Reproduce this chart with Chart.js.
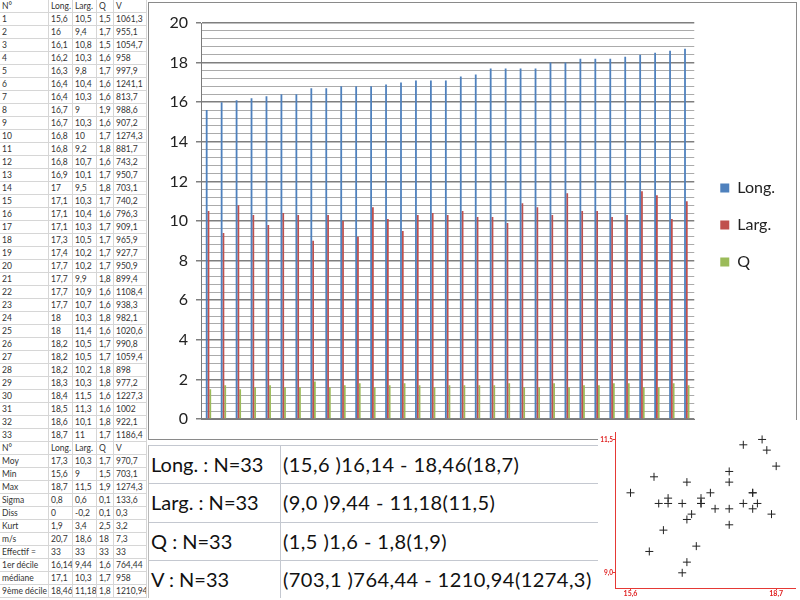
<!DOCTYPE html>
<html>
<head>
<meta charset="utf-8">
<script src="https://cdn.jsdelivr.net/npm/chart.js@4"></script>
<style>
body { margin: 0; width: 800px; height: 600px; background: #fff; position: relative; overflow: hidden; font-family: Lato, "Open Sans", sans-serif; }
#sheet { position: absolute; left: 0; top: 0; display: grid; grid-template-columns: 49px 24px 24px 17px 33px; grid-auto-rows: 13px; }
#sheet div { box-sizing: border-box; border-right: 1px solid #d6d6d6; border-bottom: 1px solid #d6d6d6; font-size: 8.5px; line-height: 12px; color: #333; padding-left: 2px; white-space: nowrap; overflow: hidden; }
#frame { position: absolute; left: 148px; top: 2px; width: 647px; height: 436px; border: 1px solid #8a8a8a; }
#barWrap { position: absolute; left: 150px; top: 3px; }
#summary { position: absolute; left: 148px; top: 445px; display: grid; grid-template-columns: 132px 325px; grid-auto-rows: 38.3px; border-left: 1px solid #bbb; }
#summary div { box-sizing: border-box; border-top: 1px solid #c4c8d0; font-size: 20px; line-height: 37px; color: #111; padding-left: 2px; white-space: nowrap; }
#summary div.c1 { border-right: 1px solid #c4c8d0; }
#summary div.c2 { letter-spacing: 0.45px; }
#scatterWrap { position: absolute; left: 598px; top: 420px; width: 202px; height: 180px; background: #fff; }
</style>
</head>
<body>
<div id="sheet"></div>
<div id="frame"></div>
<div id="barWrap"><canvas id="bars" width="645" height="436"></canvas></div>
<div id="summary"></div>
<div id="scatterWrap"><canvas id="scatter" width="202" height="180"></canvas></div>
<script>
// data
var ids = [];
for (var n = 1; n <= 33; n++) ids.push(String(n));
var longs = [15.6, 16, 16.1, 16.2, 16.3, 16.4, 16.4, 16.7, 16.7, 16.8, 16.8, 16.8, 16.9, 17, 17.1, 17.1, 17.1, 17.3, 17.4, 17.7, 17.7, 17.7, 17.7, 18, 18, 18.2, 18.2, 18.2, 18.3, 18.4, 18.5, 18.6, 18.7];
var largs = [10.5, 9.4, 10.8, 10.3, 9.8, 10.4, 10.3, 9, 10.3, 10, 9.2, 10.7, 10.1, 9.5, 10.3, 10.4, 10.3, 10.5, 10.2, 10.2, 9.9, 10.9, 10.7, 10.3, 11.4, 10.5, 10.5, 10.2, 10.3, 11.5, 11.3, 10.1, 11];
var qs = [1.5, 1.7, 1.5, 1.6, 1.7, 1.6, 1.6, 1.9, 1.6, 1.7, 1.8, 1.6, 1.7, 1.8, 1.7, 1.6, 1.7, 1.7, 1.7, 1.7, 1.8, 1.6, 1.6, 1.8, 1.6, 1.7, 1.7, 1.8, 1.8, 1.6, 1.6, 1.8, 1.7];
var vs = [1061.3, 955.1, 1054.7, 958, 997.9, 1241.1, 813.7, 988.6, 907.2, 1274.3, 881.7, 743.2, 950.7, 703.1, 740.2, 796.3, 909.1, 965.9, 927.7, 950.9, 899.4, 1108.4, 938.3, 982.1, 1020.6, 990.8, 1059.4, 898, 977.2, 1227.3, 1002, 922.1, 1186.4];

var headers = ['N°', 'Long.', 'Larg.', 'Q', 'V'];
var statLabels = ['Moy', 'Min', 'Max', 'Sigma', 'Diss', 'Kurt', 'm/s', 'Effectif =', '1er décile', 'médiane', '9ème décile'];
var statLong = ['17,3', '15,6', '18,7', '0,8', '0', '1,9', '20,7', '33', '16,14', '17,1', '18,46'];
var statLarg = ['10,3', '9', '11,5', '0,6', '-0,2', '3,4', '18,6', '33', '9,44', '10,3', '11,18'];
var statQ = ['1,7', '1,5', '1,9', '0,1', '0,1', '2,5', '18', '33', '1,6', '1,7', '1,8'];
var statV = ['970,7', '703,1', '1274,3', '133,6', '0,3', '3,2', '7,3', '33', '764,44', '958', '1210,94'];

var summaryNames = ['Long. : N=33', 'Larg. : N=33', 'Q : N=33', 'V : N=33'];
var summaryRanges = ['(15,6 )16,14 - 18,46(18,7)', '(9,0 )9,44 - 11,18(11,5)', '(1,5 )1,6 - 1,8(1,9)', '(703,1 )764,44 - 1210,94(1274,3)'];

var scatterXTicks = [15.6, 18.7];
var scatterYTicks = [9, 11.5];

function fr(v) { return String(v).replace('.', ','); }

// spreadsheet on the left
var sheet = document.getElementById('sheet');
function addRow(cells) {
    cells.forEach(function (c) {
        var d = document.createElement('div');
        d.textContent = c;
        sheet.appendChild(d);
    });
}
addRow(headers);
for (var i = 0; i < ids.length; i++) {
    addRow([ids[i], fr(longs[i]), fr(largs[i]), fr(qs[i]), fr(vs[i])]);
}
addRow(headers);
for (var j = 0; j < statLabels.length; j++) {
    addRow([statLabels[j], statLong[j], statLarg[j], statQ[j], statV[j]]);
}

// summary lines
var summary = document.getElementById('summary');
for (var k = 0; k < summaryNames.length; k++) {
    var a = document.createElement('div');
    a.className = 'c1';
    a.textContent = summaryNames[k];
    var b = document.createElement('div');
    b.className = 'c2';
    b.textContent = summaryRanges[k];
    summary.appendChild(a);
    summary.appendChild(b);
}

// bar chart
var yTicks = [];
for (var t = 0; t <= 50; t++) yTicks.push(Math.round(t * 4) / 10);
function isMajor(v) { return Math.abs(v / 2 - Math.round(v / 2)) < 1e-6; }

// push the legend a bit to the right of the plot
var legendShift = {
    id: 'legendShift',
    afterLayout: function (chart) {
        chart.legend.left += 5;
        chart.legend.right += 5;
    }
};

new Chart(document.getElementById('bars'), {
    type: 'bar',
    data: {
        labels: ids,
        datasets: [
            { label: 'Long.', data: longs, backgroundColor: '#4F81BD', categoryPercentage: 0.36, barPercentage: 1 },
            { label: 'Larg.', data: largs, backgroundColor: '#C0504D', categoryPercentage: 0.36, barPercentage: 1 },
            { label: 'Q', data: qs, backgroundColor: '#9BBB59', categoryPercentage: 0.36, barPercentage: 1 }
        ]
    },
    options: {
        responsive: false,
        animation: false,
        layout: { padding: { top: 20, right: 15, bottom: 12, left: 0 } },
        plugins: {
            legend: {
                position: 'right',
                labels: {
                    boxWidth: 9,
                    boxHeight: 9,
                    padding: 21,
                    color: '#222',
                    font: { family: 'Lato', size: 16 }
                }
            },
            tooltip: { enabled: false }
        },
        scales: {
            x: {
                grid: { display: false },
                ticks: { display: false },
                border: { color: '#7a7a7a' }
            },
            y: {
                min: 0,
                max: 20,
                afterBuildTicks: function (s) {
                    s.ticks = yTicks.map(function (v) { return { value: v }; });
                },
                afterFit: function (s) { s.width = 51; },
                ticks: {
                    autoSkip: false,
                    color: '#222',
                    padding: 8,
                    font: { family: 'Lato', size: 16 },
                    callback: function (v) { return isMajor(v) ? String(v) : ''; }
                },
                grid: {
                    tickLength: 5,
                    color: function (c) { return isMajor(c.tick.value) ? '#7f7f7f' : '#ababab'; },
                    tickColor: function (c) { return isMajor(c.tick.value) ? '#7f7f7f' : 'rgba(0,0,0,0)'; },
                    lineWidth: function (c) { return isMajor(c.tick.value) ? 1.5 : 1; }
                },
                border: { color: '#7a7a7a' }
            }
        }
    },
    plugins: [legendShift]
});

// small scatter Long. / Larg.
var points = longs.map(function (l, i) { return { x: l, y: largs[i] }; });
new Chart(document.getElementById('scatter'), {
    type: 'scatter',
    data: {
        datasets: [{
            data: points,
            pointStyle: 'cross',
            radius: 4,
            borderColor: '#222',
            borderWidth: 1
        }]
    },
    options: {
        responsive: false,
        animation: false,
        layout: { padding: { top: 12 } },
        plugins: { legend: { display: false }, tooltip: { enabled: false } },
        scales: {
            x: {
                type: 'linear',
                min: 15.27,
                max: 19.1,
                afterBuildTicks: function (s) {
                    s.ticks = scatterXTicks.map(function (v) { return { value: v }; });
                },
                afterFit: function (s) { s.height = 12; },
                ticks: {
                    color: '#e02020',
                    padding: 0,
                    maxRotation: 0,
                    font: { family: 'Lato', size: 7, weight: 'bold' },
                    callback: function (v) { return v.toFixed(1).replace('.', ','); }
                },
                grid: { drawOnChartArea: false, tickLength: 2, color: '#e53935' },
                border: { color: '#e53935' }
            },
            y: {
                min: 8.715,
                max: 11.64,
                afterBuildTicks: function (s) {
                    s.ticks = scatterYTicks.map(function (v) { return { value: v }; });
                },
                afterFit: function (s) { s.width = 17; },
                ticks: {
                    color: '#e02020',
                    padding: 0,
                    font: { family: 'Lato', size: 6.5, weight: 'bold' },
                    callback: function (v) { return v.toFixed(1).replace('.', ','); }
                },
                grid: { drawOnChartArea: false, tickLength: 2, color: '#e53935' },
                border: { color: '#e53935' }
            }
        }
    }
});
</script>
</body>
</html>
